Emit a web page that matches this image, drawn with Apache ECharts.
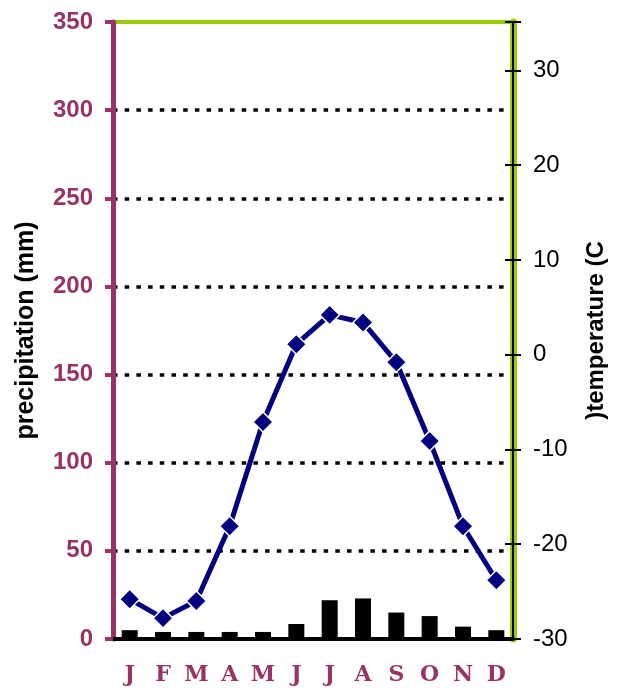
<!DOCTYPE html>
<html>
<head>
<meta charset="utf-8">
<script src="https://cdn.jsdelivr.net/npm/echarts@6/dist/echarts.min.js"></script>
<style>
html,body{margin:0;padding:0;background:#fff;}
#chart{width:618px;height:694px;}
</style>
</head>
<body>
<div id="chart"></div>
<script>
const months = ['J','F','M','A','M','J','J','A','S','O','N','D'];
const precipitation = [5, 4, 4, 4, 4, 8.5, 22, 23, 15, 13, 7, 5];
const temperature = [-25.8, -27.8, -26.0, -18.1, -7.1, 1.1, 4.2, 3.4, -0.8, -9.1, -18.1, -23.8];
const precipTicks = [0, 50, 100, 150, 200, 250, 300, 350];
const tempTicks = [-30, -20, -10, 0, 10, 20, 30];
const precipTitle = 'precipitation (mm)';
const tempTitle = ')temperature (C';

const MAROON = '#993366';
const GREEN = '#99cc00';
const chart = echarts.init(document.getElementById('chart'), null, {renderer: 'canvas'});

const splitColors = precipTicks.map((v, i) => (i === 0 || i === precipTicks.length - 1) ? 'rgba(0,0,0,0)' : '#000');

chart.setOption({
  animation: false,
  backgroundColor: '#fff',
  grid: {
    left: 113, right: 105, top: 22, bottom: 55,
    show: true, borderColor: GREEN, borderWidth: 4, backgroundColor: 'rgba(0,0,0,0)'
  },
  xAxis: {
    type: 'category',
    data: months,
    axisLine: {show: true, lineStyle: {color: '#000', width: 4}},
    axisTick: {show: false},
    axisLabel: {
      interval: 0, color: MAROON, fontFamily: 'DejaVu Serif', fontWeight: 'bold',
      fontSize: 22, margin: 25
    },
    splitLine: {show: false}
  },
  yAxis: [
    {
      type: 'value', position: 'left',
      min: precipTicks[0], max: precipTicks[precipTicks.length - 1], interval: 50,
      name: precipTitle, nameLocation: 'middle', nameRotate: 90, nameGap: 74,
      nameTextStyle: {color: '#000', fontFamily: 'Liberation Sans', fontWeight: 'bold', fontSize: 25},
      axisLine: {show: true, lineStyle: {color: MAROON, width: 5}},
      axisTick: {show: true, inside: false, length: 8, lineStyle: {color: MAROON, width: 4}},
      axisLabel: {color: MAROON, fontFamily: 'Liberation Sans', fontWeight: 'bold', fontSize: 24, margin: 20},
      splitLine: {show: true, lineStyle: {color: splitColors, width: 3.5, type: [4.5, 7.2]}}
    },
    {
      type: 'value', position: 'right',
      min: tempTicks[0], max: 35.1, interval: 10,
      name: tempTitle, nameLocation: 'middle', nameRotate: 90, nameGap: 71,
      nameTextStyle: {color: '#000', fontFamily: 'Liberation Sans', fontWeight: 'bold', fontSize: 24},
      axisLine: {show: true, lineStyle: {color: GREEN, width: 7}},
      axisTick: {show: true, inside: false, length: 8, lineStyle: {color: '#000', width: 2}},
      axisLabel: {
        color: '#000', fontFamily: 'Liberation Sans', fontSize: 24, margin: 20,
        formatter: v => (tempTicks.indexOf(Math.round(v * 1000) / 1000) >= 0 ? String(v) : '')
      },
      splitLine: {show: false}
    },
    {
      type: 'value', position: 'right',
      min: tempTicks[0], max: 35.1, interval: 10,
      axisLine: {show: true, lineStyle: {color: '#000', width: 2}},
      axisTick: {show: true, inside: true, length: 8, lineStyle: {color: '#000', width: 2}},
      axisLabel: {show: false},
      splitLine: {show: false}
    }
  ],
  series: [
    {
      type: 'bar', yAxisIndex: 0, data: precipitation,
      barWidth: 16, itemStyle: {color: '#000'}, z: 2
    },
    {
      type: 'line', yAxisIndex: 1, data: temperature,
      lineStyle: {color: '#000080', width: 5},
      symbol: 'diamond', symbolSize: 20,
      itemStyle: {color: '#000080', borderColor: '#fff', borderWidth: 1.5},
      z: 5
    }
  ]
});
</script>
</body>
</html>
